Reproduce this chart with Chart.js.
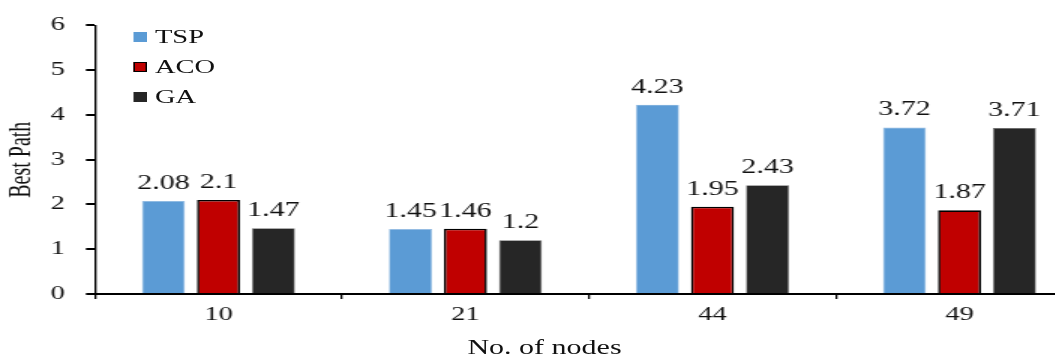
<!DOCTYPE html>
<html>
<head>
<meta charset="utf-8">
<script src="https://cdn.jsdelivr.net/npm/chart.js@4.4.0/dist/chart.umd.min.js"></script>
<style>
  html, body { margin: 0; padding: 0; background: #fff; width: 1055px; height: 356px; overflow: hidden; }
  /* the original figure is stretched sideways, so the whole chart is drawn narrow and scaled 1.5x */
  #wrap { position: absolute; left: 0; top: 0; width: 726px; height: 356px; transform: scaleX(1.5); transform-origin: 0 0; }
  #chart { position: absolute; left: 0; top: 0; }
  #legend { position: absolute; left: 88.7px; top: 21.5px; font: 19px "Liberation Serif", serif; color: #111; }
  #legend .item { display: flex; align-items: center; height: 30px; }
  #legend .sw { display: inline-block; width: 9.3px; height: 10px; margin-right: 5.3px; box-sizing: border-box; }
  #xtitle { position: absolute; left: 363px; top: 335px; transform: translateX(-50%); font: 20px "Liberation Serif", serif; line-height: 24px; color: #111; white-space: nowrap; }
</style>
</head>
<body>
<div id="wrap">
  <canvas id="chart" width="726" height="356"></canvas>
  <div id="legend"></div>
  <div id="xtitle">No. of nodes</div>
</div>
<script>
const nodes = ["10", "21", "44", "49"];
const seriesNames = ["TSP", "ACO", "GA"];
const tspValues = [2.08, 1.45, 4.23, 3.72];
const acoValues = [2.1, 1.46, 1.95, 1.87];
const gaValues = [1.47, 1.2, 2.43, 3.71];
const yTicks = [0, 1, 2, 3, 4, 5, 6];

const fills = ["#5B9BD5", "#C00000", "#262626"];
const edges = ["#8fb8e0", "#000000", "#6e6e6e"];
const edgeWidths = [0.7, 1.6, 0.7];
const serif = "'Liberation Serif', 'Times New Roman', serif";

// legend, built from the series names
const legendEl = document.getElementById("legend");
seriesNames.forEach((name, i) => {
  const item = document.createElement("div");
  item.className = "item";
  const sw = document.createElement("span");
  sw.className = "sw";
  sw.style.background = fills[i];
  if (i === 1) sw.style.border = "1.3px solid #000";
  item.appendChild(sw);
  item.appendChild(document.createTextNode(name));
  legendEl.appendChild(item);
});

// value labels above every bar
const valueLabels = {
  id: "valueLabels",
  afterDatasetsDraw(chart) {
    const ctx = chart.ctx;
    ctx.save();
    ctx.font = "20px " + serif;
    ctx.fillStyle = "#111";
    ctx.textAlign = "center";
    ctx.textBaseline = "alphabetic";
    chart.data.datasets.forEach((ds, di) => {
      chart.getDatasetMeta(di).data.forEach((bar, i) => {
        ctx.fillText(String(ds.data[i]), bar.x, bar.y - 12);
      });
    });
    ctx.restore();
  }
};

const allValues = [tspValues, acoValues, gaValues];

new Chart(document.getElementById("chart"), {
  type: "bar",
  data: {
    labels: nodes,
    datasets: seriesNames.map((name, i) => ({
      label: name,
      data: allValues[i],
      backgroundColor: fills[i],
      borderColor: edges[i],
      borderWidth: edgeWidths[i],
      categoryPercentage: 0.668,
      barPercentage: 0.782
    }))
  },
  options: {
    responsive: false,
    animation: false,
    layout: { padding: { top: 22, right: 4, left: 0, bottom: 0 } },
    plugins: {
      legend: { display: false },
      tooltip: { enabled: false }
    },
    scales: {
      x: {
        offset: true,
        afterFit(scale) { scale.height = 62; },
        grid: { display: true, drawOnChartArea: false, drawTicks: true, tickLength: 5, color: "#000", lineWidth: 1.3 },
        border: { display: true, color: "#000", width: 2 },
        ticks: { font: { family: serif, size: 19 }, color: "#111", padding: 5 }
      },
      y: {
        min: yTicks[0],
        max: yTicks[yTicks.length - 1],
        afterFit(scale) { scale.width = 63.3; },
        afterBuildTicks(scale) { scale.ticks = yTicks.map(v => ({ value: v })); },
        grid: { display: true, drawOnChartArea: false, drawTicks: true, tickLength: 6, color: "#000", lineWidth: 2 },
        border: { display: true, color: "#000", width: 1.35 },
        ticks: { font: { family: serif, size: 19 }, color: "#111", padding: 14 },
        title: { display: true, text: "Best Path", font: { family: serif, size: 20 }, color: "#111", padding: { top: 3, bottom: 0 } }
      }
    }
  },
  plugins: [valueLabels]
});
</script>
</body>
</html>
